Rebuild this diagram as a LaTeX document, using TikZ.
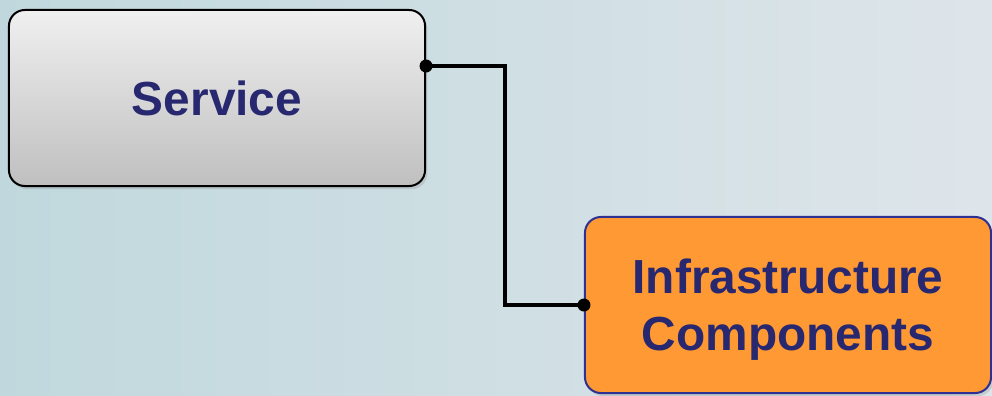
\documentclass[tikz,border=0pt]{standalone}
\usepackage{fontspec}
\setmainfont{Liberation Sans}
\usetikzlibrary{shadows}

\definecolor{navytext}{RGB}{39,40,111}
\definecolor{navyline}{RGB}{46,49,146}
\definecolor{boxorange}{RGB}{255,153,51}
\definecolor{bgleft}{RGB}{192,216,221}
\definecolor{bgright}{RGB}{222,229,234}

\tikzset{
  box/.style={rounded corners=0.4cm, line width=0.05cm, minimum height=4.4cm,
    align=center, text=navytext, font=\bfseries\fontsize{34}{40.5}\selectfont,
    drop shadow={opacity=0.25, shadow xshift=0.06cm, shadow yshift=-0.08cm}},
  graybox/.style={box, draw=black, top color=gray!12, bottom color=gray!50, minimum width=10.4cm},
  orangebox/.style={box, draw=navyline, fill=boxorange, minimum width=10.15cm, text depth=0pt},
  link/.style={line width=0.1cm},
  dot/.style={fill=black},
}

\begin{document}
\begin{tikzpicture}[x=0.025cm,y=-0.025cm]
% background
\shade[left color=bgleft, right color=bgright] (0,0) rectangle (992,395);
\useasboundingbox (0,0) rectangle (992,395);

\node[graybox] (service) at (217,98) {Service};
\node[orangebox] (infra) at (788,305) {Infrastructure\\Components};

\coordinate (bend) at (505,66);
\draw[link] (service.east |- bend) -- (bend) -- (bend |- infra.west) -- (infra.west);
\fill[dot] (service.east |- bend) circle (6.5);
\fill[dot] (infra.west) circle (6.5);
\end{tikzpicture}
\end{document}
